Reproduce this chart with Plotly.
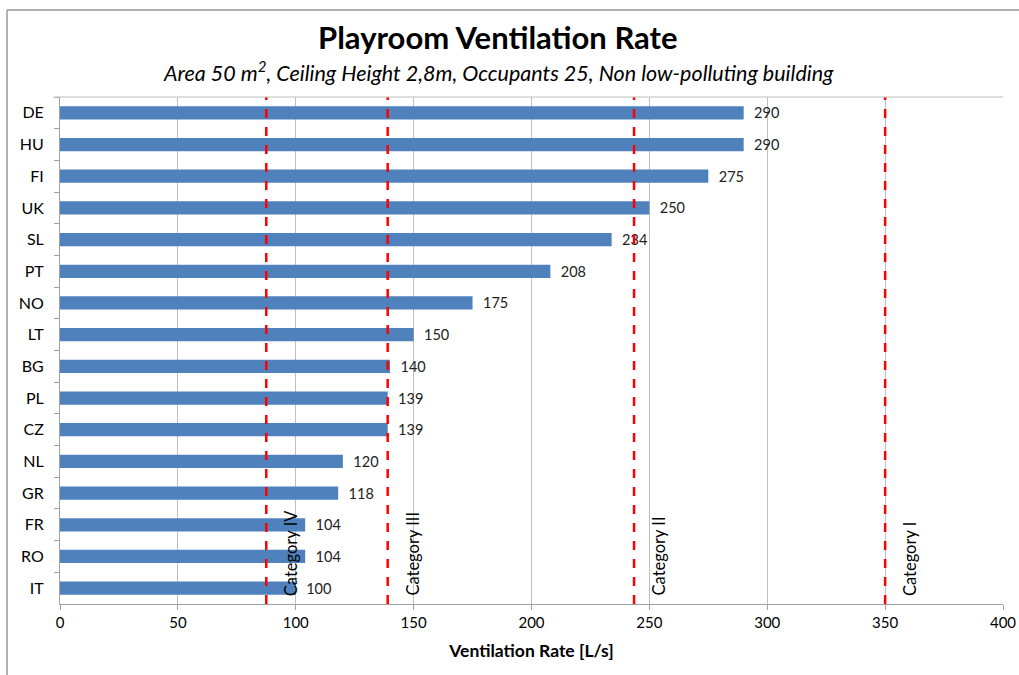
import plotly.graph_objects as go

countries = ["DE", "HU", "FI", "UK", "SL", "PT", "NO", "LT", "BG", "PL", "CZ", "NL", "GR", "FR", "RO", "IT"]
rates = [290, 290, 275, 250, 234, 208, 175, 150, 140, 139, 139, 120, 118, 104, 104, 100]
cat_names = ["Category IV", "Category III", "Category II", "Category I"]
cat_values = [87.5, 139, 243.5, 350]
x_ticks = [0, 50, 100, 150, 200, 250, 300, 350, 400]

FONT = "Lato, 'Open Sans', sans-serif"

fig = go.Figure()
fig.add_trace(go.Bar(
    y=countries, x=rates, orientation="h",
    marker=dict(color="#4F81BD", line=dict(width=0)),
    text=[str(v) for v in rates], texttemplate="\u00a0\u00a0%{text}",
    textposition="outside", constraintext="none",
    textfont=dict(size=14.5, color="#222", family=FONT),
    cliponaxis=False, showlegend=False,
))

shapes = []
annotations = []
for name, v in zip(cat_names, cat_values):
    shapes.append(dict(type="line", xref="x", yref="paper", x0=v, x1=v, y0=0, y1=1,
                       line=dict(color="#FF0000", width=2.5, dash="dash"), layer="above"))
    annotations.append(dict(x=v, y=0.012, xref="x", yref="paper", text=name, textangle=-90,
                            showarrow=False, xanchor="left", yanchor="bottom", xshift=13,
                            font=dict(size=16.5, color="#000", family=FONT)))

# outer chart border (left and top edges visible)
shapes.append(dict(type="line", xref="paper", yref="paper", x0=-0.0562, x1=-0.0562, y0=-0.3, y1=1.1716,
                   line=dict(color="#999999", width=1.5), layer="below"))
shapes.append(dict(type="line", xref="paper", yref="paper", x0=-0.0562, x1=1.1, y0=1.1716, y1=1.1716,
                   line=dict(color="#999999", width=1.5), layer="below"))
# top border line of plot area
shapes.append(dict(type="line", xref="paper", yref="paper", x0=-0.007, x1=1, y0=1, y1=1,
                   line=dict(color="#BFBFBF", width=1)))

annotations.append(dict(x=0.4645, y=1.118, xref="paper", yref="paper", showarrow=False,
                        xanchor="center", yanchor="middle",
                        text="<b>Playroom Ventilation Rate</b>",
                        font=dict(size=31, color="#000", family=FONT)))
annotations.append(dict(x=0.4645, y=1.051, xref="paper", yref="paper", showarrow=False,
                        xanchor="center", yanchor="middle",
                        text="<i>Area 50 m<sup>2</sup>, Ceiling Height 2,8m, Occupants 25, Non low-polluting building</i>",
                        font=dict(size=21.5, color="#000", family=FONT)))

fig.update_layout(
    width=1019, height=675,
    margin=dict(l=60, r=16, t=97, b=71, autoexpand=False),
    paper_bgcolor="white", plot_bgcolor="white",
    bargap=0.58,
    shapes=shapes, annotations=annotations,
    font=dict(family=FONT, color="#000"),
    xaxis=dict(range=[0, 400], tickvals=x_ticks, showgrid=True, gridcolor="#BFBFBF", gridwidth=1,
               showline=True, linecolor="#A0A0A0", ticks="outside", ticklen=5, tickcolor="#A0A0A0",
               tickfont=dict(size=15), zeroline=False, mirror=False, automargin=False,
               title=dict(text="<b>Ventilation Rate [L/s]</b>", font=dict(size=17.5), standoff=14)),
    yaxis=dict(autorange="reversed", showline=True, linecolor="#A0A0A0", ticks="outside",
               tickson="boundaries", ticklen=5, tickcolor="#A0A0A0", tickfont=dict(size=16),
               ticklabelstandoff=12, showgrid=False, automargin=False),
)

fig.write_html("out.html", config={"displayModeBar": False},
               post_script="document.body.style.margin='0';")
